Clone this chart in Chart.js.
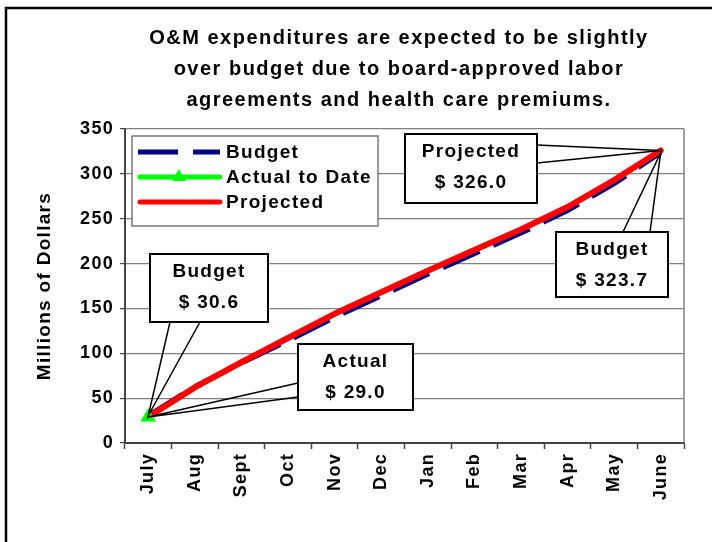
<!DOCTYPE html>
<html lang="en">
<head>
<meta charset="UTF-8">
<title>O&amp;M Expenditures</title>
<script src="https://cdn.jsdelivr.net/npm/chart.js"></script>
<style>
  html, body { margin: 0; padding: 0; background: #fff; }
  #chart { display: block; }
</style>
</head>
<body>
<canvas id="chart" width="713" height="542"></canvas>
<script>
// chart data
const months = ["July", "Aug", "Sept", "Oct", "Nov", "Dec", "Jan", "Feb", "Mar", "Apr", "May", "June"];
const budget = [30.6, 63, 89, 114, 140, 164, 188, 211, 234, 259, 289, 323.7];
const actual = [29.0, null, null, null, null, null, null, null, null, null, null, null];
const projected = [29.0, 62, 90, 117, 144, 168, 192, 215, 238, 263, 293, 326.0];
const yMin = 0, yMax = 350, yStep = 50;
const titleLines = [
    "O&M expenditures are expected to be slightly",
    "over budget due to board-approved labor",
    "agreements and health care premiums."
];

const FONT = "'Liberation Sans', Arial, sans-serif";
const SPACING = "1.3px";

// Excel style text is a bit letter spaced
const spacingPlugin = {
    id: "spacing",
    beforeUpdate(chart) { chart.ctx.letterSpacing = SPACING; },
    beforeDraw(chart) { chart.ctx.letterSpacing = SPACING; }
};

// title, outer frame and plot frame
const framePlugin = {
    id: "frame",
    afterDraw(chart) {
        const ctx = chart.ctx;
        const a = chart.chartArea;
        ctx.save();
        // right edge of plot area
        ctx.strokeStyle = "#808080";
        ctx.lineWidth = 1.5;
        ctx.beginPath();
        ctx.moveTo(a.right, a.top);
        ctx.lineTo(a.right, a.bottom);
        ctx.stroke();
        // outer border
        ctx.strokeStyle = "#000";
        ctx.lineWidth = 2.5;
        ctx.beginPath();
        ctx.moveTo(6, 542);
        ctx.lineTo(6, 8);
        ctx.lineTo(712, 8);
        ctx.stroke();
        // title
        ctx.letterSpacing = "1.5px";
        ctx.fillStyle = "#000";
        ctx.font = "bold 20px " + FONT;
        ctx.textAlign = "center";
        ctx.textBaseline = "middle";
        titleLines.forEach((t, i) => ctx.fillText(t, 399, 38 + i * 31));
        ctx.restore();
    }
};

// legend box inside the plot, drawn from the dataset styles
const legendPlugin = {
    id: "boxLegend",
    afterDatasetsDraw(chart) {
        const ctx = chart.ctx;
        const ds = chart.data.datasets;
        const bx = 132, by = 136, bw = 246, bh = 90;
        ctx.save();
        ctx.fillStyle = "#fff";
        ctx.fillRect(bx, by, bw, bh);
        ctx.strokeStyle = "#555";
        ctx.lineWidth = 1.2;
        ctx.strokeRect(bx, by, bw, bh);
        const rows = [152, 177, 202];
        ds.forEach((d, i) => {
            const y = rows[i];
            ctx.strokeStyle = d.borderColor;
            ctx.lineWidth = 5;
            ctx.lineCap = d.borderDash ? "butt" : "round";
            ctx.setLineDash(d.borderDash || []);
            ctx.beginPath();
            ctx.moveTo(i === 0 ? 138 : 140, y);
            ctx.lineTo(220, y);
            ctx.stroke();
            ctx.setLineDash([]);
            if (d.pointStyle === "triangle") {
                ctx.fillStyle = d.borderColor;
                ctx.beginPath();
                ctx.moveTo(179, y - 8);
                ctx.lineTo(186, y + 4);
                ctx.lineTo(172, y + 4);
                ctx.closePath();
                ctx.fill();
            }
            ctx.fillStyle = "#000";
            ctx.font = "bold 19px " + FONT;
            ctx.textAlign = "left";
            ctx.textBaseline = "middle";
            ctx.fillText(d.label, 226, y + 1);
        });
        ctx.restore();
    }
};

// callout boxes with wedge pointers
const callouts = [
    { ds: 0, idx: 0, label: "Budget", box: [150, 254, 118, 68], base: [[170, 322], [200, 322]] },
    { ds: 1, idx: 0, label: "Actual", box: [298, 344, 115, 66], base: [[298, 383], [298, 397]] },
    { ds: 2, idx: 11, label: "Projected", box: [405, 134, 132, 69], base: [[537, 145], [537, 163]] },
    { ds: 0, idx: 11, label: "Budget", box: [556, 232, 112, 65], base: [[623, 232], [650, 232]] }
];

const calloutPlugin = {
    id: "callouts",
    afterDatasetsDraw(chart) {
        const ctx = chart.ctx;
        const xs = chart.scales.x, ys = chart.scales.y;
        ctx.save();
        callouts.forEach(c => {
            const v = chart.data.datasets[c.ds].data[c.idx];
            const px = xs.getPixelForValue(c.idx);
            const py = ys.getPixelForValue(v);
            const [x, y, w, h] = c.box;
            ctx.strokeStyle = "#000";
            ctx.lineWidth = 1.5;
            ctx.beginPath();
            ctx.moveTo(c.base[0][0], c.base[0][1]);
            ctx.lineTo(px, py);
            ctx.lineTo(c.base[1][0], c.base[1][1]);
            ctx.stroke();
            ctx.fillStyle = "#fff";
            ctx.fillRect(x, y, w, h);
            ctx.lineWidth = 2;
            ctx.strokeRect(x, y, w, h);
            ctx.fillStyle = "#000";
            ctx.font = "bold 19px " + FONT;
            ctx.textAlign = "center";
            ctx.textBaseline = "middle";
            ctx.fillText(c.label, x + w / 2, y + 18);
            ctx.fillText("$ " + v.toFixed(1), x + w / 2, y + 49);
        });
        ctx.restore();
    }
};

const tickFont = { family: FONT, size: 18, weight: "bold" };

new Chart(document.getElementById("chart").getContext("2d"), {
    type: "line",
    data: {
        labels: months,
        datasets: [
            {
                label: "Budget",
                data: budget,
                borderColor: "#000080",
                borderWidth: 5,
                borderDash: [40, 15],
                pointRadius: 0,
                tension: 0,
                order: 3
            },
            {
                label: "Actual to Date",
                data: actual,
                borderColor: "#00ff00",
                backgroundColor: "#00ff00",
                borderWidth: 5,
                pointStyle: "triangle",
                pointRadius: 9,
                pointBorderWidth: 0,
                tension: 0,
                order: 1
            },
            {
                label: "Projected",
                data: projected,
                borderColor: "#ff0000",
                borderWidth: 6,
                borderCapStyle: "round",
                borderJoinStyle: "round",
                pointRadius: 0,
                tension: 0,
                order: 2
            }
        ]
    },
    options: {
        responsive: false,
        animation: false,
        layout: { padding: { top: 129, right: 29, left: 0, bottom: 0 } },
        plugins: {
            legend: { display: false },
            tooltip: { enabled: false },
            title: { display: false }
        },
        scales: {
            x: {
                offset: true,
                grid: { offset: true, drawOnChartArea: false, tickLength: 6, tickColor: "#444", tickWidth: 1.5 },
                border: { color: "#444", width: 2 },
                ticks: { color: "#000", font: tickFont, maxRotation: 90, minRotation: 90, padding: 4, autoSkip: false },
                afterFit(s) { s.height = 99; }
            },
            y: {
                min: yMin,
                max: yMax,
                ticks: { stepSize: yStep, color: "#000", font: tickFont, padding: 6 },
                grid: { color: "#808080", lineWidth: 1.2, tickLength: 5, tickColor: "#444" },
                border: { color: "#444", width: 2 },
                title: {
                    display: true,
                    text: "Millions of Dollars",
                    color: "#000",
                    font: { family: FONT, size: 19, weight: "bold" },
                    padding: { top: 33, bottom: 0 }
                },
                afterFit(s) { s.width = 125; }
            }
        }
    },
    plugins: [spacingPlugin, legendPlugin, calloutPlugin, framePlugin]
});
</script>
</body>
</html>
